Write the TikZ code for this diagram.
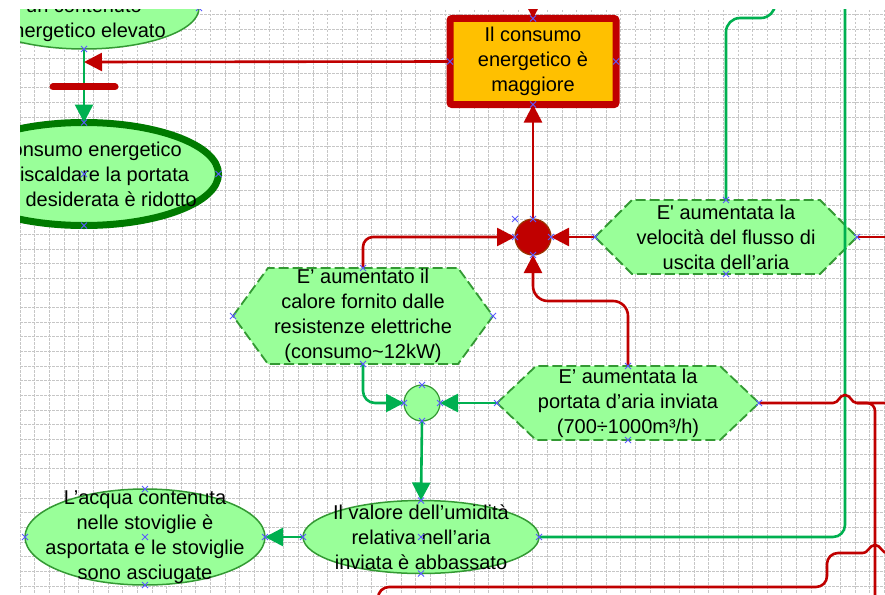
\documentclass[tikz,border=0pt]{standalone}
\usepackage{fontspec}
\setmainfont{Liberation Sans}
\usepackage{tikz}
\usetikzlibrary{arrows.meta,shapes.geometric}

\definecolor{rosso}{HTML}{C00000}
\definecolor{verde}{HTML}{00B050}
\definecolor{verdechiaro}{HTML}{99FF99}
\definecolor{verdebordo}{HTML}{339933}
\definecolor{verdescuro}{HTML}{007A00}
\definecolor{arancio}{HTML}{FFC000}
\definecolor{marrone}{HTML}{993300}
\definecolor{blu}{HTML}{5A5AFF}

\tikzset{
    %Define standard arrow tip
    >={Triangle[length=18pt,width=18pt]},
    %Define style for texts
    testo/.style={
           font=\fontsize{20}{25}\selectfont,
           align=center,
           inner sep=0pt},
    %Define style for shapes
    effetto/.style={
           ellipse,
           draw=verdebordo, line width=1.5pt,
           fill=verdechiaro,
           inner sep=0pt, outer sep=0pt},
    problema/.style={
           rectangle,
           rounded corners=2pt,
           draw=rosso, line width=7pt,
           fill=arancio,
           minimum width=166, minimum height=86,
           testo, outer sep=0pt},
    giunzione/.style={
           circle,
           line width=1.2pt,
           minimum size=36,
           inner sep=0pt, outer sep=0pt},
    causa/.style={
           rectangle,
           testo, outer sep=0pt},
    esagonale/.style={
           draw=verdebordo, line width=1.8pt,
           dash pattern=on 10pt off 4pt,
           fill=verdechiaro},
    % Define connector styles
    rossofilo/.style={draw=rosso, line width=2.6pt},
    verdefilo/.style={draw=verde, line width=2.6pt},
    inibizione/.style={draw=rosso, line width=7pt, line cap=round},
    griglia/.style={draw=gray!45, line width=0.65pt, dash pattern=on 2.5pt off 1.5pt},
    crocetta/.style={draw=blu, line width=0.8pt}
}

% hexagon: name, centre, half width, half height, slant, text
\newcommand{\esagono}[6]{%
  \filldraw[esagonale] #2 ++(-#3,0) -- ++(#5,-#4) -- ++(2*#3-2*#5,0)
     -- ++(#5,#4) -- ++(-#5,#4) -- ++(-2*#3+2*#5,0) -- cycle;
  \node[causa, minimum width=2*#3, minimum height=2*#4] (#1) at #2 {#6};
}

\begin{document}
\begin{tikzpicture}[x=1pt,y=-1pt]
\useasboundingbox (0,0) rectangle (885,594);
\begin{scope}
\clip (20,10) rectangle (885,594);
 %grid
\foreach \i in {0,...,59}
    \draw[griglia] (20+\i*14.65,10) -- (20+\i*14.65,594);
\foreach \j in {0,...,39}
    \draw[griglia] (20,14.5+\j*14.65) -- (885,14.5+\j*14.65);
 %nodes
\node[effetto, minimum width=230, minimum height=82,
      label={[testo,yshift=-12.5pt]center:un contenuto\\energetico elevato}] (cibo) at (84,8) {};
\node[problema] (maggiore) at (533,61.5) {Il consumo\\energetico è\\maggiore};
\node[effetto, draw=verdescuro, line width=7pt, minimum width=269, minimum height=103,
      label={[testo]center:Il consumo energetico\\per riscaldare la portata\\d’aria desiderata è ridotto}] (ridotto) at (84,174) {};
\node[giunzione, fill=rosso, draw=marrone] (nodo1) at (533,237) {};
\esagono{velocita}{(726,237)}{131}{37}{37}{E\textquotesingle{} aumentata la\\velocità del flusso di\\uscita dell’aria}
\esagono{calore}{(363,316)}{130}{48}{35}{E’ aumentato il\\calore fornito dalle\\resistenze elettriche\\(consumo\textasciitilde 12kW)}
\esagono{portata}{(628,403)}{131}{37}{39}{E’ aumentata la\\portata d’aria inviata\\(700÷1000m³/h)}
\node[giunzione, fill=verdechiaro, draw=verdebordo] (nodo2) at (422,403) {};
\node[effetto, minimum width=236, minimum height=73,
      label={[testo]center:Il valore dell’umidità\\relativa nell’aria\\inviata è abbassato}] (umidita) at (421,537) {};
\node[effetto, minimum width=240, minimum height=96,
      label={[testo]center:L’acqua contenuta\\nelle stoviglie è\\asportata e le stoviglie\\sono asciugate}] (asciugate) at (145,537) {};
 %free ends
\coordinate (sopra) at (533,-30);
\coordinate (destra1) at (900,237);
\coordinate (destra2) at (900,403);
\coordinate (destra3) at (900,553);
\coordinate (basso1) at (875,610);
\coordinate (basso2) at (378,610);
\coordinate (alto1) at (845,-20);
\coordinate (alto2) at (775,-20);
\coordinate (salto) at (857,403);
\coordinate (salto2) at (862,553);
 %green connectors
\draw[verdefilo,->] (cibo.south) -- coordinate[pos=.177] (inib) coordinate[pos=.517] (barra) (ridotto.north);
\draw[verdefilo,->,rounded corners=12pt] (calore.south) |- (nodo2.west);
\draw[verdefilo,->] (portata.west) -- (nodo2.east);
\draw[verdefilo,->] (nodo2.south) -- (umidita.north);
\draw[verdefilo,->] (umidita.west) -- (asciugate.east);
\draw[verdefilo,rounded corners=12pt] (umidita.east) -| (alto1);
\draw[verdefilo,rounded corners=14pt] (velocita.north) -- ++(0,-182) -| (alto2);
 %red connectors
\draw[rossofilo,->] (maggiore.west) -- (inib);
\draw[inibizione] ([xshift=-31pt]barra) -- ([xshift=31pt]barra);
\draw[rossofilo,->] (sopra) -- (maggiore.north);
\draw[rossofilo,->] (nodo1.north) -- (maggiore.south);
\draw[rossofilo,->,rounded corners=10pt] (calore.north) |- (nodo1.west);
\draw[rossofilo,->] (velocita.west) -- (nodo1.east);
\draw[rossofilo,->,rounded corners=15pt] (portata.north) -- ++(0,-65) -| (nodo1.south);
\draw[rossofilo] (velocita.east) -- (destra1);
\draw[rossofilo] (portata.east) -- (833,403) .. controls (839,403) and (839,395) .. (845,395)
    .. controls (851,395) and (851,403) .. (salto) -- (destra2);
\draw[rossofilo,rounded corners=8pt] (salto) -- (875,403) -- (basso1);
\draw[rossofilo,rounded corners=11pt] (basso2) -- (378,587) -- (827,587) -- (827,553) -- (salto2);
\draw[rossofilo] (salto2) .. controls (869,553) and (869,545) .. (875,545)
    .. controls (881,545) and (881,553) .. (888,553) -- (destra3);
 %connection points
\foreach \p in {cibo.south, cibo.east, maggiore.north, maggiore.west, maggiore.east, maggiore.south,
    ridotto.north, ridotto.center, ridotto.east, ridotto.south,
    nodo1.north, nodo1.west, nodo1.east, nodo1.south, nodo1.west |- nodo1.north,
    velocita.west, velocita.north, velocita.east, velocita.south,
    calore.north, calore.west, calore.east, calore.south,
    nodo2.north, nodo2.west, nodo2.east, nodo2.south,
    portata.west, portata.north, portata.east, portata.south,
    umidita.north, umidita.center, umidita.west, umidita.east, umidita.south,
    asciugate.north, asciugate.center, asciugate.west, asciugate.east, asciugate.south}
    \draw[crocetta] (\p) ++(-3,-3) -- ++(6,6) ++(-6,0) -- ++(6,-6);
\end{scope}
\end{tikzpicture}
\end{document}
